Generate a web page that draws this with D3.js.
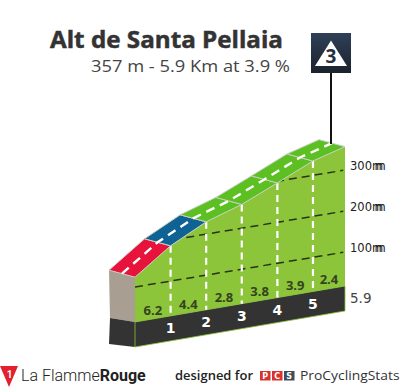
<!DOCTYPE html>
<html>
<head>
<meta charset="utf-8">
<script src="https://cdnjs.cloudflare.com/ajax/libs/d3/7.8.5/d3.min.js"></script>
<style>
  html, body { margin: 0; padding: 0; background: #fff; }
  svg { display: block; }
</style>
</head>
<body>
<div id="chart"></div>
<script>
var kms = [0, 1, 2, 3, 4, 5, 5.9];
var elevations = [124, 186, 230, 258, 296, 335, 357];
var gradients = [6.2, 4.4, 2.8, 3.8, 3.9, 2.4];
var kmLabels = [1, 2, 3, 4, 5];
var elevTicks = [100, 200, 300];

var width = 405, height = 392;

var svg = d3.select("#chart").append("svg")
    .attr("width", width)
    .attr("height", height);

// the whole profile leans upward, so each km has its own zero line
var x = d3.scaleLinear().domain([0, 5.9]).range([135, 345]);
var zeroY = d3.scaleLinear().domain([0, 5.9]).range([328, 293]);
var baseTop = d3.scaleLinear().domain([0, 5.9]).range([322, 286]);
var baseBottom = d3.scaleLinear().domain([0, 5.9]).range([347, 311]);
var h = d3.scaleLinear().domain([0, 100]).range([0, 41]);

var depth = {x: -26, y: -7};

function y(km, m) { return zeroY(km) - h(m); }
function poly(pts) { return pts.map(function(p) { return p.join(","); }).join(" "); }

var roadColor = d3.scaleThreshold().domain([4, 6]).range(["#5cc022", "#0f6394", "#e8133b"]);

var defs = svg.append("defs");

var flagGrad = defs.append("linearGradient").attr("id", "flagGrad")
    .attr("x1", 0).attr("y1", 0).attr("x2", 0).attr("y2", 1);
flagGrad.append("stop").attr("offset", "0%").attr("stop-color", "#2e4058");
flagGrad.append("stop").attr("offset", "100%").attr("stop-color", "#1c222c");

// green wall
var wall = kms.map(function(k, i) { return [x(k), y(k, elevations[i])]; });
wall.push([x(5.9), baseTop(5.9)], [x(0), baseTop(0)]);

defs.append("clipPath").attr("id", "wallClip")
    .append("polygon").attr("points", poly(wall));

svg.append("polygon")
    .attr("points", poly(wall))
    .attr("fill", "#8cc53a");

// left side of the block
var x0 = x(0), top0 = y(0, elevations[0]);
svg.append("polygon")
    .attr("points", poly([[x0, top0], [x0 + depth.x, top0 + depth.y], [x0 + depth.x + 1, 318], [x0, baseTop(0)]]))
    .attr("fill", "#a89f92");
svg.append("polygon")
    .attr("points", poly([[x0, baseTop(0)], [x0 + depth.x + 1, 318], [x0 + depth.x, 344], [x0, baseBottom(0)]]))
    .attr("fill", "#333333");

// dark base
svg.append("polygon")
    .attr("points", poly([[x(0), baseTop(0)], [x(5.9), baseTop(5.9)], [x(5.9), baseBottom(5.9)], [x(0), baseBottom(0)]]))
    .attr("fill", "#333333")
    .attr("stroke", "#8cc53a")
    .attr("stroke-width", 0.8);

// elevation lines
svg.append("g")
    .attr("clip-path", "url(#wallClip)")
    .selectAll("line")
    .data(elevTicks)
    .join("line")
    .attr("x1", x(0))
    .attr("y1", function(d) { return y(0, d); })
    .attr("x2", x(5.85))
    .attr("y2", function(d) { return y(5.85, d); })
    .attr("stroke", "#2a3318")
    .attr("stroke-width", 1.5)
    .attr("stroke-dasharray", "8,5");

// km lines
svg.append("g")
    .selectAll("line")
    .data(kmLabels)
    .join("line")
    .attr("x1", function(d) { return x(d); })
    .attr("y1", function(d) { return y(d, elevations[kms.indexOf(d)]); })
    .attr("x2", function(d) { return x(d); })
    .attr("y2", function(d) { return baseTop(d); })
    .attr("stroke", "#fff")
    .attr("stroke-width", 2.2)
    .attr("stroke-dasharray", "7,5");

// road surface
svg.append("g")
    .selectAll("polygon")
    .data(gradients)
    .join("polygon")
    .attr("points", function(d, i) {
        var ax = x(kms[i]), ay = y(kms[i], elevations[i]);
        var bx = x(kms[i + 1]), by = y(kms[i + 1], elevations[i + 1]);
        return poly([[ax, ay], [bx, by], [bx + depth.x, by + depth.y], [ax + depth.x, ay + depth.y]]);
    })
    .attr("fill", function(d) { return roadColor(d); })
    .attr("stroke", "#c9cfc4")
    .attr("stroke-width", 1);

// road centre line
var centre = kms.map(function(k, i) {
    return [x(k) + depth.x / 2, y(k, elevations[i]) + depth.y / 2];
});
svg.append("path")
    .attr("d", d3.line()(centre))
    .attr("fill", "none")
    .attr("stroke", "#fff")
    .attr("stroke-width", 2.4)
    .attr("stroke-dasharray", "9,6");

var tahoma = "'DejaVu Sans', sans-serif";
var openSans = "'Open Sans', sans-serif";

// gradient labels
svg.append("g")
    .selectAll("text")
    .data(gradients)
    .join("text")
    .attr("x", function(d, i) { return x((kms[i] + kms[i + 1]) / 2); })
    .attr("y", function(d, i) { return baseTop((kms[i] + kms[i + 1]) / 2) - 4.3; })
    .attr("text-anchor", "middle")
    .attr("font-family", openSans)
    .attr("font-size", 13)
    .attr("font-weight", "bold")
    .attr("fill", "#35421f")
    .text(function(d) { return d.toFixed(1); });

// km numbers
svg.append("g")
    .selectAll("text")
    .data(kmLabels)
    .join("text")
    .attr("x", function(d) { return x(d); })
    .attr("y", function(d) { return baseTop(d) + 17.5; })
    .attr("text-anchor", "middle")
    .attr("font-family", tahoma)
    .attr("font-size", 14)
    .attr("font-weight", "bold")
    .attr("fill", "#fff")
    .text(function(d) { return d; });

// elevation labels, the m is smeared in the original
var tickText = svg.append("g").selectAll("text").data(elevTicks).join("text")
    .attr("x", 350)
    .attr("y", function(d) { return y(5.9, d) - 0.5; })
    .attr("font-family", tahoma)
    .attr("font-size", 11.5)
    .attr("fill", "#222");
tickText.append("tspan").text(function(d) { return d; });
tickText.append("tspan")
    .style("text-shadow", "2.5px 0 0 #222")
    .text("m");

svg.append("text")
    .attr("x", 350)
    .attr("y", 302.7)
    .attr("font-family", tahoma)
    .attr("font-size", 13.5)
    .attr("fill", "#444")
    .text("5.9");

// title
svg.append("text")
    .attr("x", 50)
    .attr("y", 47.5)
    .attr("font-family", openSans)
    .attr("font-size", 24)
    .attr("font-weight", "bold")
    .attr("fill", "#333")
    .attr("stroke", "#333")
    .attr("stroke-width", 0.5)
    .attr("textLength", 233)
    .attr("lengthAdjust", "spacingAndGlyphs")
    .text("Alt de Santa Pellaia");

svg.append("text")
    .attr("x", 91)
    .attr("y", 72)
    .attr("font-family", openSans)
    .attr("font-size", 17)
    .attr("fill", "#444")
    .attr("textLength", 199)
    .attr("lengthAdjust", "spacingAndGlyphs")
    .text("357 m - 5.9 Km at 3.9 %");

// climb flag
var poleX = x(5.9) - 14;
svg.append("line")
    .attr("x1", poleX).attr("y1", 73)
    .attr("x2", poleX).attr("y2", 144)
    .attr("stroke", "#111")
    .attr("stroke-width", 2);
svg.append("rect")
    .attr("x", 311).attr("y", 33)
    .attr("width", 40).attr("height", 40)
    .attr("fill", "url(#flagGrad)");
svg.append("polygon")
    .attr("points", poly([[331, 40.5], [347, 66], [315, 66]]))
    .attr("fill", "#fff");
svg.append("text")
    .attr("x", 331).attr("y", 63)
    .attr("text-anchor", "middle")
    .attr("font-family", openSans)
    .attr("font-size", 19)
    .attr("font-weight", "bold")
    .attr("fill", "#26303e")
    .text("3");

// footer, La Flamme Rouge
svg.append("polygon")
    .attr("points", poly([[0, 366], [18, 366], [9, 387]]))
    .attr("fill", "#e3202e");
svg.append("text")
    .attr("x", 9.5).attr("y", 378)
    .attr("text-anchor", "middle")
    .attr("font-family", "Roboto, sans-serif")
    .attr("font-size", 10)
    .attr("font-weight", "bold")
    .attr("fill", "#fff")
    .text("1");

var lfr = svg.append("text")
    .attr("x", 21).attr("y", 380.5)
    .attr("font-family", "Roboto, sans-serif")
    .attr("font-size", 16)
    .attr("fill", "#222");
lfr.append("tspan").attr("font-weight", 300).text("La Flamme");
lfr.append("tspan").attr("font-weight", "bold").text("Rouge");

svg.append("text")
    .attr("x", 175).attr("y", 380)
    .attr("font-family", openSans)
    .attr("font-size", 13)
    .attr("font-weight", 600)
    .attr("fill", "#222")
    .attr("textLength", 78)
    .attr("lengthAdjust", "spacingAndGlyphs")
    .text("designed for");

var pcsLetters = ["P", "C", "S"];
var pcsColors = ["#d9322e", "#d9322e", "#3f4d5a"];
var pcs = svg.append("g").selectAll("g").data(pcsLetters).join("g");
pcs.append("rect")
    .attr("x", function(d, i) { return 260 + i * 12; })
    .attr("y", 371)
    .attr("width", 10.5)
    .attr("height", 9.5)
    .attr("fill", function(d, i) { return pcsColors[i]; });
pcs.append("text")
    .attr("x", function(d, i) { return 265.2 + i * 12; })
    .attr("y", 379)
    .attr("text-anchor", "middle")
    .attr("font-family", tahoma)
    .attr("font-size", 8)
    .attr("font-weight", "bold")
    .attr("fill", "#fff")
    .text(function(d) { return d; });

svg.append("text")
    .attr("x", 300).attr("y", 379.5)
    .attr("font-family", openSans)
    .attr("font-size", 13)
    .attr("fill", "#333")
    .attr("textLength", 99.5)
    .attr("lengthAdjust", "spacingAndGlyphs")
    .text("ProCyclingStats");
</script>
</body>
</html>
